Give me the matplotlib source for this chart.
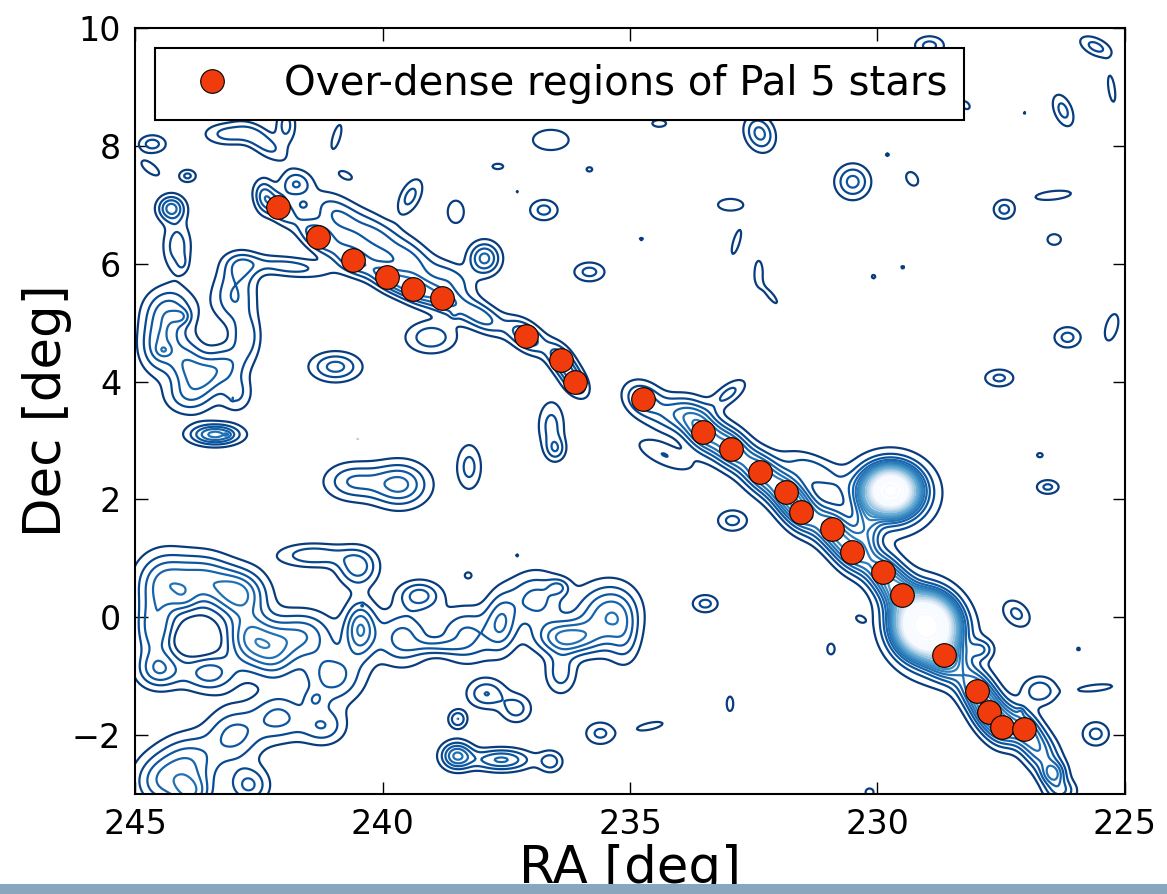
import numpy as np
import matplotlib.pyplot as plt
from matplotlib.patches import Rectangle

# over-dense regions along the stream (RA, Dec in deg)
pal5_ra = [242.11, 241.30, 240.60, 239.91, 239.38, 238.80, 237.10, 236.39, 236.11,
           234.74, 233.53, 232.96, 232.37, 231.85, 231.55, 230.92, 230.52, 229.89,
           229.51, 228.66, 227.99, 227.75, 227.48, 227.04]
pal5_dec = [6.96, 6.45, 6.07, 5.77, 5.57, 5.41, 4.77, 4.36, 4.00,
            3.70, 3.14, 2.86, 2.46, 2.12, 1.79, 1.49, 1.11, 0.76,
            0.37, -0.65, -1.25, -1.61, -1.86, -1.89]

# density map, described as gaussian components:
# (ra, dec, amplitude, sigma_u, sigma_v, angle in deg)
north_stream = [
    (242.11, 6.96, 3.5, 0.30, 0.15, 35), (241.30, 6.45, 4.0, 0.30, 0.16, 30),
    (240.60, 6.07, 4.0, 0.30, 0.16, 25), (239.91, 5.77, 4.0, 0.30, 0.16, 25),
    (239.38, 5.57, 4.0, 0.30, 0.16, 25), (238.80, 5.41, 4.0, 0.35, 0.16, 25),
    (238.00, 5.10, 3.5, 0.35, 0.16, 25), (237.10, 4.77, 4.0, 0.30, 0.16, 30),
    (236.39, 4.36, 4.0, 0.25, 0.15, 45), (236.11, 4.00, 3.5, 0.22, 0.14, 45),
    (241.75, 7.35, 3.0, 0.22, 0.16, 0), (241.60, 7.00, 1.5, 0.08, 0.06, 0),
    (240.90, 6.80, 3.0, 0.40, 0.22, 30), (240.10, 6.45, 3.0, 0.40, 0.22, 30),
    (239.40, 6.05, 2.8, 0.35, 0.22, 35), (238.60, 5.75, 2.4, 0.35, 0.18, 25),
    (240.75, 7.50, 1.6, 0.14, 0.06, 20), (242.40, 7.15, 2.0, 0.14, 0.22, 0),
    (241.90, 5.95, 2.5, 0.60, 0.12, 5), (242.85, 5.95, 2.4, 0.25, 0.18, 0),
    (239.02, 4.75, 2.8, 0.36, 0.19, 0), (238.56, 5.13, 0.8, 0.06, 0.05, 0),
]
north_left = [
    (244.15, 6.30, 2.6, 0.20, 0.30, 0), (244.04, 6.00, 1.0, 0.08, 0.10, 0),
    (244.30, 5.20, 3.4, 0.35, 0.28, 0), (244.05, 5.10, 1.5, 0.12, 0.09, 0),
    (244.50, 4.60, 3.6, 0.28, 0.32, 0), (244.42, 4.53, 1.2, 0.10, 0.07, 0),
    (243.95, 4.30, 3.2, 0.25, 0.28, 0), (243.55, 4.10, 2.8, 0.25, 0.22, 0),
    (243.90, 3.75, 2.6, 0.35, 0.22, 0), (243.00, 5.45, 3.0, 0.30, 0.32, 0),
    (242.75, 4.75, 2.6, 0.20, 0.28, 0), (243.15, 4.30, 2.6, 0.28, 0.22, 0),
    (242.95, 3.80, 2.2, 0.22, 0.22, 0), (243.38, 3.10, 5.4, 0.35, 0.12, 0),
    (243.13, 3.10, 1.0, 0.05, 0.03, 0),
]
north_field = [
    (244.65, 8.03, 2.5, 0.20, 0.11, 0), (244.69, 7.62, 1.5, 0.22, 0.09, 30),
    (243.94, 7.49, 2.3, 0.13, 0.08, 0), (244.27, 6.94, 4.4, 0.19, 0.15, 0),
    (243.10, 8.20, 2.5, 0.35, 0.13, 0), (242.40, 8.05, 2.5, 0.35, 0.14, 30),
    (241.95, 8.35, 2.4, 0.14, 0.22, 0), (240.93, 8.15, 1.5, 0.24, 0.08, 110),
    (237.67, 7.65, 1.5, 0.12, 0.05, 0), (237.28, 7.22, 1.15, 0.03, 0.03, 0),
    (236.60, 8.10, 1.5, 0.40, 0.19, 0), (235.82, 7.60, 1.3, 0.08, 0.05, 0),
    (236.74, 6.91, 2.4, 0.21, 0.13, 0), (238.52, 6.88, 1.5, 0.18, 0.21, 0),
    (239.44, 7.14, 2.4, 0.25, 0.14, 125), (237.94, 6.09, 4.4, 0.22, 0.19, 0),
    (235.82, 5.86, 2.4, 0.23, 0.12, 0), (240.95, 4.25, 3.4, 0.35, 0.17, 0),
    (236.59, 3.25, 2.4, 0.19, 0.30, 0), (236.50, 2.85, 2.3, 0.14, 0.14, 0),
    (243.03, 3.71, 1.1, 0.02, 0.02, 0), (240.50, 3.03, 1.05, 0.02, 0.015, 0),
    (228.95, 9.70, 2.4, 0.22, 0.12, 0), (225.59, 9.68, 2.4, 0.25, 0.11, 20),
    (225.27, 8.97, 1.5, 0.25, 0.07, 80), (226.25, 8.60, 2.4, 0.22, 0.13, 60),
    (227.03, 8.56, 1.15, 0.04, 0.03, 0), (228.22, 8.69, 1.4, 0.07, 0.11, 120),
    (234.41, 8.38, 1.4, 0.17, 0.07, 0), (232.38, 8.21, 3.4, 0.23, 0.19, 45),
    (229.80, 7.85, 1.2, 0.05, 0.04, 0), (230.50, 7.39, 3.4, 0.24, 0.20, 0),
    (229.30, 7.44, 1.5, 0.15, 0.11, 40), (232.97, 7.00, 1.5, 0.28, 0.11, 0),
    (234.77, 6.42, 1.15, 0.06, 0.04, 0), (232.85, 6.37, 1.5, 0.24, 0.07, 110),
    (232.40, 5.85, 1.5, 0.22, 0.09, 90), (232.15, 5.45, 1.4, 0.20, 0.06, 45),
    (227.44, 6.92, 2.4, 0.16, 0.12, 0), (226.45, 7.16, 1.5, 0.40, 0.08, -5),
    (226.43, 6.41, 1.5, 0.15, 0.10, 0), (230.08, 5.78, 1.2, 0.06, 0.05, 0),
    (229.49, 5.94, 1.15, 0.06, 0.04, 0), (226.16, 4.75, 2.4, 0.20, 0.13, 0),
    (225.27, 4.92, 1.5, 0.26, 0.13, 110), (227.54, 4.06, 2.3, 0.22, 0.11, 0),
]
south_stream = [
    (234.74, 3.70, 3.5, 0.28, 0.20, 20), (234.00, 3.45, 3.5, 0.38, 0.22, 0),
    (233.00, 3.80, 2.3, 0.28, 0.12, -30), (234.30, 2.75, 2.0, 0.45, 0.14, 20),
    (233.53, 3.14, 5.5, 0.30, 0.22, 35), (232.96, 2.86, 5.5, 0.30, 0.22, 35),
    (232.37, 2.46, 5.5, 0.30, 0.22, 35), (231.85, 2.12, 5.5, 0.30, 0.22, 35),
    (231.55, 1.79, 5.5, 0.30, 0.22, 40), (230.92, 1.49, 5.5, 0.30, 0.22, 40),
    (230.52, 1.11, 5.5, 0.30, 0.22, 40), (229.89, 0.76, 5.5, 0.30, 0.22, 40),
    (229.51, 0.37, 5.5, 0.30, 0.22, 45), (228.66, -0.65, 6.0, 0.30, 0.22, 45),
    (227.99, -1.25, 6.0, 0.30, 0.22, 45), (227.75, -1.61, 5.0, 0.25, 0.22, 45),
    (227.48, -1.86, 5.0, 0.25, 0.22, 45), (227.04, -1.89, 4.5, 0.28, 0.20, 45),
    (226.70, -2.30, 4.0, 0.32, 0.22, 45), (226.45, -2.66, 4.0, 0.17, 0.14, 0),
    (226.30, -2.95, 3.0, 0.22, 0.14, 0),
    (229.73, 2.15, 30.0, 0.30, 0.22, 0), (229.75, 2.10, 6.0, 0.55, 0.40, 0),
    (230.20, 1.50, 3.0, 0.18, 0.32, 0), (231.30, 2.50, 2.5, 0.45, 0.18, 20),
    (229.02, -0.14, 40.0, 0.32, 0.27, 0), (229.00, -0.20, 7.0, 0.55, 0.45, 30),
    (227.90, -0.55, 2.5, 0.17, 0.12, 0), (226.72, -1.25, 2.8, 0.25, 0.17, 0),
    (225.60, -1.20, 1.5, 0.38, 0.06, -5), (227.10, -1.60, 1.0, 0.05, 0.05, 0),
]
south_left = [
    (244.40, 0.60, 4.0, 0.40, 0.35, 0), (243.60, 0.65, 3.6, 0.40, 0.30, 0),
    (242.90, 0.40, 5.0, 0.38, 0.28, 0), (244.00, 0.30, 1.5, 0.20, 0.15, 0),
    (244.60, -0.20, 3.6, 0.28, 0.38, 0), (243.77, -0.40, -3.0, 0.22, 0.13, 0),
    (242.70, -0.35, 4.5, 0.32, 0.32, 0), (244.50, -0.90, 3.5, 0.32, 0.22, 0),
    (243.50, -0.95, 3.5, 0.38, 0.22, 0), (242.20, -0.60, 3.8, 0.32, 0.32, 0),
    (241.60, -0.30, 3.6, 0.42, 0.28, 0), (240.45, -0.20, 4.8, 0.22, 0.32, 0),
    (240.50, 0.85, 3.6, 0.28, 0.22, 0), (241.40, 1.05, 2.8, 0.50, 0.14, 0),
    (239.60, -0.35, 3.4, 0.38, 0.32, 0), (241.00, -1.00, 3.5, 0.42, 0.32, 0),
    (241.37, -1.40, 1.5, 0.15, 0.12, 0), (241.20, -1.85, 2.8, 0.32, 0.22, 0),
    (242.10, -1.70, 3.2, 0.38, 0.28, 0), (243.00, -2.00, 3.2, 0.38, 0.32, 0),
    (243.90, -2.45, 3.4, 0.42, 0.32, 0), (244.50, -2.80, 3.4, 0.38, 0.32, 0),
    (243.84, -3.00, 3.8, 0.28, 0.22, 0), (242.70, -2.85, 3.2, 0.28, 0.22, 0),
    (239.25, 0.37, 3.4, 0.30, 0.17, 0), (239.65, 2.25, 4.3, 0.40, 0.26, 0),
    (240.60, 2.30, 3.0, 0.40, 0.22, 0), (238.25, 2.55, 2.4, 0.18, 0.28, 0),
    (237.28, 1.05, 1.1, 0.03, 0.03, 0), (238.27, 0.71, 1.4, 0.08, 0.06, 0),
    (240.41, 0.20, 1.05, 0.02, 0.02, 0),
]
south_mid = [
    (238.90, -0.50, 1.8, 0.35, 0.09, 0), (238.30, -0.30, 3.2, 0.40, 0.32, 0),
    (237.60, -0.10, 3.4, 0.22, 0.34, 0), (236.90, 0.30, 3.4, 0.40, 0.32, 0),
    (236.44, 0.51, 2.0, 0.15, 0.10, 0), (236.30, -0.35, 5.0, 0.42, 0.20, 0),
    (235.60, 0.00, 3.4, 0.38, 0.38, 0), (236.40, -0.95, 2.5, 0.22, 0.25, 0),
    (235.20, 0.10, 2.2, 0.32, 0.32, 0), (235.10, -0.40, 1.8, 0.22, 0.32, 0),
    (237.90, -1.30, 3.0, 0.27, 0.17, 0), (237.30, -1.55, 2.5, 0.22, 0.17, 0),
    (238.48, -1.73, 3.0, 0.13, 0.11, 0), (238.50, -2.35, 5.0, 0.22, 0.16, 0),
    (237.60, -2.42, 4.2, 0.42, 0.13, 0), (236.60, -2.45, 2.5, 0.17, 0.13, 0),
    (232.93, 1.64, 2.4, 0.22, 0.13, 0), (233.48, 0.23, 2.4, 0.19, 0.11, 0),
    (230.35, -0.03, 1.3, 0.09, 0.05, 20), (230.94, -0.54, 1.4, 0.09, 0.11, 0),
    (232.98, -1.47, 1.4, 0.08, 0.15, 0), (235.60, -1.97, 2.3, 0.22, 0.14, 0),
    (234.60, -1.85, 1.4, 0.32, 0.07, -10), (230.16, -2.97, 1.5, 0.09, 0.07, 0),
    (226.72, 2.75, 1.3, 0.08, 0.05, 0), (226.56, 2.21, 2.3, 0.17, 0.09, 0),
    (227.19, 0.06, 2.3, 0.15, 0.22, 120), (225.94, -0.54, 1.2, 0.05, 0.04, 0),
    (225.59, -1.98, 2.4, 0.20, 0.15, 0),
]

levels = [1, 2, 3, 4, 5, 6, 7, 8, 9, 10, 12, 14, 16, 18, 21, 24, 28, 33, 38]

ra_grid = np.linspace(225, 245, 801)
dec_grid = np.linspace(-3, 10, 521)
RA, DEC = np.meshgrid(ra_grid, dec_grid)
density = np.zeros_like(RA)
for comps in [north_stream, north_left, north_field, south_stream, south_left, south_mid]:
    for x0, y0, amp, su, sv, ang in comps:
        t = np.deg2rad(ang)
        dx = RA - x0
        dy = DEC - y0
        u = dx * np.cos(t) + dy * np.sin(t)
        v = -dx * np.sin(t) + dy * np.cos(t)
        density += amp * np.exp(-0.5 * ((u / su) ** 2 + (v / sv) ** 2))

fig = plt.figure(figsize=(11.67, 8.94), dpi=100)
ax = fig.add_axes([0.1157, 0.1119, 0.8483, 0.8568])
ax.contour(RA, DEC, density, levels=levels, cmap='Blues_r', vmin=0, vmax=20,
           linewidths=1.6)
ax.plot(pal5_ra, pal5_dec, 'o', color='#f03c0c', markersize=17, markeredgecolor='black',
        markeredgewidth=0.8, linestyle='none', label='Over-dense regions of Pal 5 stars')
ax.set_xlim(245, 225)
ax.set_ylim(-3, 10)
ax.set_xticks([245, 240, 235, 230, 225])
ax.set_yticks([-2, 0, 2, 4, 6, 8, 10])
ax.tick_params(direction='in', top=True, right=True, length=9, width=1, labelsize=24, pad=10)
for s in ax.spines.values():
    s.set_linewidth(1.5)
ax.set_xlabel('RA [deg]', fontsize=37, labelpad=2)
ax.set_ylabel('Dec [deg]', fontsize=37, labelpad=0)
leg = ax.legend(loc='upper left', fontsize=29, numpoints=1, fancybox=False, framealpha=1)
leg.get_frame().set_edgecolor('black')
leg.get_frame().set_linewidth(1.5)

fig.add_artist(Rectangle((0, 0), 1, 10 / 894, transform=fig.transFigure,
                         facecolor='#88a6be', edgecolor='none', zorder=10))
fig.savefig('out.png', dpi=100)
